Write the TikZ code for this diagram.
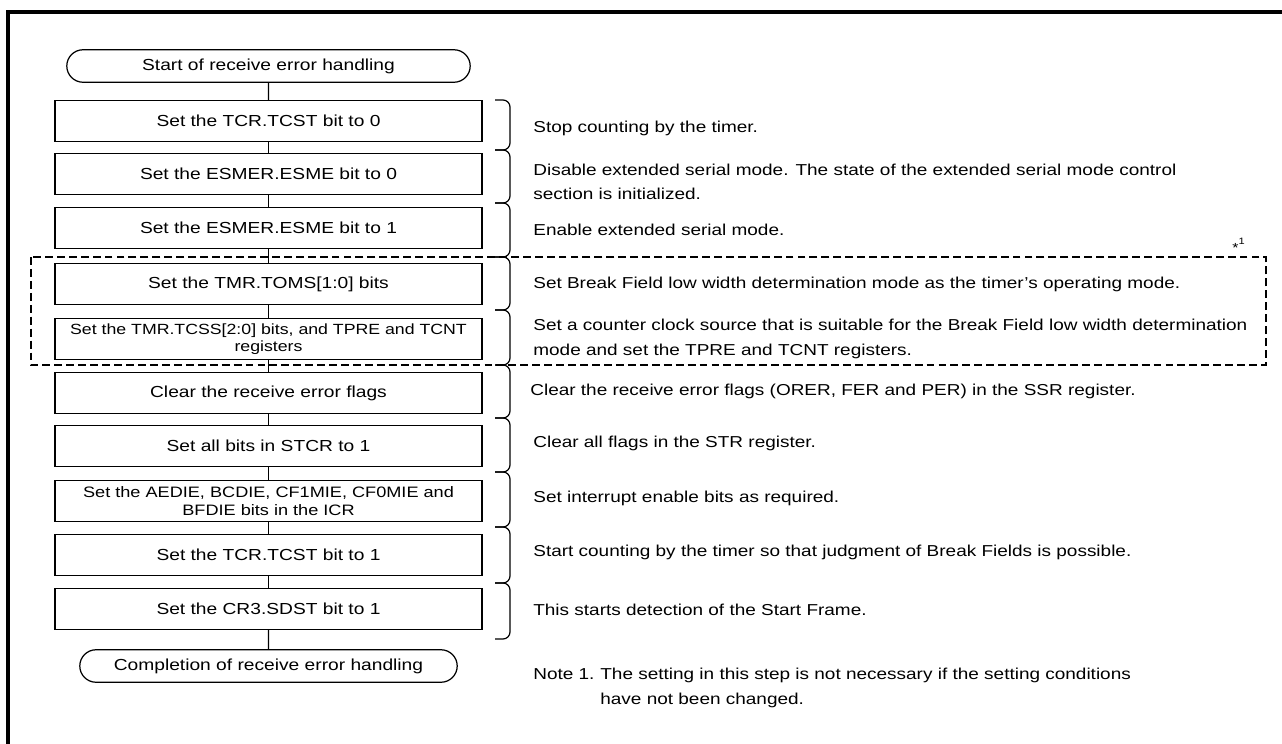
\documentclass[tikz,border=0pt]{standalone}
\usepackage{fontspec}
\setmainfont{Liberation Sans}[FakeStretch=1.2]
\usetikzlibrary{shapes.misc,positioning}

\tikzset{
  stepbox/.style={draw,line width=0.7pt,minimum width=8.54cm,minimum height=0.82cm,inner sep=1pt,align=center,font=\fontsize{9.1}{10}\selectfont},
  terminal/.style={draw,rounded rectangle,line width=0.7pt,minimum height=0.65cm,inner sep=1pt,font=\fontsize{9.1}{10}\selectfont},
  desc/.style={anchor=west,align=left,inner sep=0pt,font=\fontsize{9}{14}\selectfont},
  bracket/.style={line width=0.7pt,rounded corners=4pt},
  flow/.style={line width=0.7pt},
  dashbox/.style={line width=1.3pt,dash pattern=on 4.5pt off 2.3pt},
}

\begin{document}
\begin{tikzpicture}[x=0.02cm,y=-0.02cm]
\useasboundingbox (0,0) rectangle (1282,744);
% outer frame
\draw[line width=2pt] (8,744) -- (8,12) -- (1282,12);

% flow column
\node[terminal,minimum width=8.14cm] (start) at (268.5,66) {Start of receive error handling};
\node[stepbox] (b1) at (268.5,121) {Set the TCR.TCST bit to 0};
\node[stepbox] (b2) at (268.5,174) {Set the ESMER.ESME bit to 0};
\node[stepbox] (b3) at (268.5,228) {Set the ESMER.ESME bit to 1};
\node[stepbox] (b4) at (268.5,284) {Set the TMR.TOMS[1:0] bits};
\node[stepbox,font=\fontsize{8.4}{10}\selectfont] (b5) at (268.5,339) {Set the TMR.TCSS[2:0] bits, and TPRE and TCNT\\registers};
\node[stepbox] (b6) at (268.5,393) {Clear the receive error flags};
\node[stepbox] (b7) at (268.5,446) {Set all bits in STCR to 1};
\node[stepbox,font=\fontsize{8.6}{10}\selectfont] (b8) at (268.5,501) {Set the AEDIE, BCDIE, CF1MIE, CF0MIE and\\BFDIE bits in the ICR};
\node[stepbox] (b9) at (268.5,555) {Set the TCR.TCST bit to 1};
\node[stepbox] (b10) at (268.5,609) {Set the CR3.SDST bit to 1};
\node[terminal,minimum width=7.62cm] (end) at (268.5,666) {Completion of receive error handling};

\draw[flow] (start) -- (b1);
\draw[flow] (b1) -- (b2);
\draw[flow] (b2) -- (b3);
\draw[flow] (b3) -- (b4);
\draw[flow] (b4) -- (b5);
\draw[flow] (b5) -- (b6);
\draw[flow] (b6) -- (b7);
\draw[flow] (b7) -- (b8);
\draw[flow] (b8) -- (b9);
\draw[flow] (b9) -- (b10);
\draw[flow] (b10) -- (end);

% brackets
\draw[bracket] (495,100) -- (510,100) -- (510,150) -- (495,150);
\draw[bracket] (495,150) -- (510,150) -- (510,203) -- (495,203);
\draw[bracket] (495,203) -- (510,203) -- (510,257) -- (495,257);
\draw[bracket] (495,257) -- (510,257) -- (510,310) -- (495,310);
\draw[bracket] (495,310) -- (510,310) -- (510,365) -- (495,365);
\draw[bracket] (495,365) -- (510,365) -- (510,418) -- (495,418);
\draw[bracket] (495,418) -- (510,418) -- (510,472) -- (495,472);
\draw[bracket] (495,472) -- (510,472) -- (510,527) -- (495,527);
\draw[bracket] (495,527) -- (510,527) -- (510,583) -- (495,583);
\draw[bracket] (495,583) -- (510,583) -- (510,639) -- (495,639);

% descriptions
\node[desc] (d1) at (533,128) {Stop counting by the timer.};
\node[desc] (d2) at (533,182) {Disable extended serial mode. The state of the extended serial mode control\\section is initialized.};
\node[desc] (d3) at (533,230) {Enable extended serial mode.};
\node[desc] (d4) at (533,284) {Set Break Field low width determination mode as the timer’s operating mode.};
\node[desc] (d5) at (533,339) {Set a counter clock source that is suitable for the Break Field low width determination\\mode and set the TPRE and TCNT registers.};
\node[desc] (d6) at (530,391) {Clear the receive error flags (ORER, FER and PER) in the SSR register.};
\node[desc] (d7) at (533,443) {Clear all flags in the STR register.};
\node[desc] (d8) at (533,498) {Set interrupt enable bits as required.};
\node[desc] (d9) at (533,552) {Start counting by the timer so that judgment of Break Fields is possible.};
\node[desc] (d10) at (533,610) {This starts detection of the Start Frame.};

% optional step
\draw[dashbox] (31,257) rectangle (1266,365);
\node[inner sep=0pt,font=\fontsize{7.5}{8}\selectfont] (mark) at (1239,245) {\raisebox{-1.5pt}{*}\textsuperscript{1}};

% note
\node[desc,anchor=north west] (note) at (533,668) {Note 1.};
\node[desc,anchor=north west] (notetxt) at (600,668) {The setting in this step is not necessary if the setting conditions\\have not been changed.};
\end{tikzpicture}
\end{document}
